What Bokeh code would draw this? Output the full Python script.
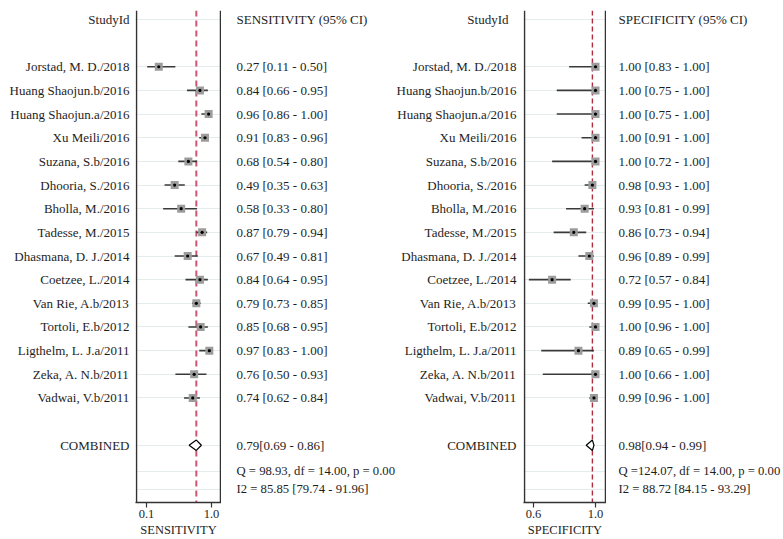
from bokeh.plotting import figure
from bokeh.layouts import row
from bokeh.models import Range1d, Span, FixedTicker, PrintfTickFormatter
from bokeh.core.properties import value
from bokeh.embed import file_html
from bokeh.resources import INLINE

# ---------------- data ----------------
studies = ["Jorstad, M. D./2018", "Huang Shaojun.b/2016", "Huang Shaojun.a/2016",
           "Xu Meili/2016", "Suzana, S.b/2016", "Dhooria, S./2016", "Bholla, M./2016",
           "Tadesse, M./2015", "Dhasmana, D. J./2014", "Coetzee, L./2014",
           "Van Rie, A.b/2013", "Tortoli, E.b/2012", "Ligthelm, L. J.a/2011",
           "Zeka, A. N.b/2011", "Vadwai, V.b/2011"]
sens = [0.27, 0.84, 0.96, 0.91, 0.68, 0.49, 0.58, 0.87, 0.67, 0.84, 0.79, 0.85, 0.97, 0.76, 0.74]
sens_lo = [0.11, 0.66, 0.86, 0.83, 0.54, 0.35, 0.33, 0.79, 0.49, 0.64, 0.73, 0.68, 0.83, 0.50, 0.62]
sens_hi = [0.50, 0.95, 1.00, 0.96, 0.80, 0.63, 0.80, 0.94, 0.81, 0.95, 0.85, 0.95, 1.00, 0.93, 0.84]
spec = [1.00, 1.00, 1.00, 1.00, 1.00, 0.98, 0.93, 0.86, 0.96, 0.72, 0.99, 1.00, 0.89, 1.00, 0.99]
spec_lo = [0.83, 0.75, 0.75, 0.91, 0.72, 0.93, 0.81, 0.73, 0.89, 0.57, 0.95, 0.96, 0.65, 0.66, 0.96]
spec_hi = [1.00, 1.00, 1.00, 1.00, 1.00, 1.00, 0.99, 0.94, 0.99, 0.84, 1.00, 1.00, 0.99, 1.00, 1.00]

sens_comb = [0.69, 0.79, 0.86]   # lo, est, hi
spec_comb = [0.94, 0.98, 0.99]
sens_comb_label = " 0.79[0.69 - 0.86]"
spec_comb_label = " 0.98[0.94 - 0.99]"
sens_q = "Q = 98.93, df = 14.00, p = 0.00"
spec_q = "Q =124.07, df = 14.00, p = 0.00"
sens_i2 = "I2 = 85.85 [79.74 - 91.96]"
spec_i2 = "I2 = 88.72 [84.15 - 93.29]"
sens_ticks = [0.1, 1.0]
spec_ticks = [0.6, 1.0]
header_id = "StudyId"
header_sens = "SENSITIVITY (95% CI)"
header_spec = "SPECIFICITY (95% CI)"
combined_label = "COMBINED"

# row positions (rows counted from top)
study_rows = list(range(2, 2 + len(studies)))
row_header = 0
row_comb = 18
row_q = 19.1
row_i2 = 19.85
grid_rows = [row_header] + study_rows + [row_comb, row_q, row_i2]

def fmt(e, l, h):
    return "%.2f [%.2f - %.2f]" % (e, l, h)

sens_labels = [fmt(e, l, h) for e, l, h in zip(sens, sens_lo, sens_hi)]
spec_labels = [fmt(e, l, h) for e, l, h in zip(spec, spec_lo, spec_hi)]

# ---------------- layout ----------------
H = 539
FONT = value("Liberation Serif")
FS = "13px"
FS_Q = "12.7px"
TXT = "#1e1e1e"
yr = Range1d(20.42, -0.378)


def base(width, xr, axis=False):
    p = figure(width=width, height=H, x_range=xr, y_range=yr,
               output_backend="svg", toolbar_location=None,
               min_border_left=0, min_border_right=0,
               min_border_top=10, min_border_bottom=34,
               x_axis_location="below" if axis else None,
               y_axis_location=None)
    p.outline_line_color = None
    p.xgrid.visible = False
    p.ygrid.visible = False
    p.background_fill_color = "white"
    p.border_fill_color = "white"
    return p


def texts(p, x, ys, labels, align, size=FS):
    p.text(x=[x] * len(labels), y=ys, text=labels, text_font=FONT,
           text_font_size=size, text_align=align, text_baseline="middle",
           text_color=TXT)


def panel(width, x0, x1, xl, xr_, est, lo, hi, comb, ticks, label, dash_color, dash_w, dash):
    p = base(width, Range1d(x0, x1), axis=True)
    p.ygrid.visible = True
    p.ygrid.ticker = FixedTicker(ticks=grid_rows)
    p.ygrid.grid_line_color = "#e4ecec"
    p.ygrid.grid_line_width = 1
    p.add_layout(Span(location=comb[1], dimension="height", line_color=dash_color,
                      line_width=dash_w, line_dash=dash, level="underlay"))
    for loc in (xl, xr_):
        p.add_layout(Span(location=loc, dimension="height", line_color="#333333",
                          line_width=1.5))
    p.segment(x0=lo, y0=study_rows, x1=hi, y1=study_rows, line_color="#3a3a3a",
              line_width=1.6)
    p.scatter(x=est, y=study_rows, marker="square", size=8, fill_color="#9c9c9c",
              line_color=None)
    p.scatter(x=est, y=study_rows, marker="circle", size=3.2, fill_color="black",
              line_color=None)
    h = 0.22
    p.patch(x=[comb[0], comb[1], comb[2], comb[1]],
            y=[row_comb, row_comb - h, row_comb, row_comb + h],
            fill_color="white", line_color="black", line_width=1.2)
    ax = p.xaxis[0]
    ax.ticker = FixedTicker(ticks=ticks)
    ax.formatter = PrintfTickFormatter(format="%.1f")
    ax.axis_label = label
    ax.axis_label_text_font = "Liberation Serif"
    ax.axis_label_text_font_size = "12.5px"
    ax.axis_label_text_font_style = "normal"
    ax.axis_label_text_color = TXT
    ax.major_label_text_font = "Liberation Serif"
    ax.major_label_text_font_size = "12.5px"
    ax.major_label_text_color = TXT
    ax.axis_line_color = "#333333"
    ax.axis_line_width = 1.5
    ax.major_tick_line_color = "#333333"
    ax.major_tick_line_width = 1.2
    ax.major_tick_out = 5
    ax.major_tick_in = 0
    ax.minor_tick_line_color = None
    ax.major_label_standoff = 2
    ax.axis_label_standoff = 2
    return p

# A: left study labels (page x 0-135)
wA = 135
pA = base(wA, Range1d(0, wA))
texts(pA, 129, [row_header], [header_id], "right")
texts(pA, 129, study_rows, studies, "right")
texts(pA, 129, [row_comb], [combined_label], "right")

# B: sensitivity panel (page x 135-221; 0.1 at 146, 1.0 at 211)
s = 72.2
pB = panel(86, 0.1 - 11 / s, 1.0 + 10 / s, 0.1 - 10 / s, 1.0 + 9 / s,
           sens, sens_lo, sens_hi, sens_comb, sens_ticks, "SENSITIVITY",
           "#cc5571", 2, "6 4")

# C: sensitivity values and right study labels (page x 221-523)
wC = 302
pC = base(wC, Range1d(0, wC))
texts(pC, 15, [row_header], [header_sens], "left")
texts(pC, 15, study_rows, sens_labels, "left")
texts(pC, 15, [row_comb], [sens_comb_label], "left")
texts(pC, 15, [row_q, row_i2], [sens_q, sens_i2], "left", FS_Q)
texts(pC, 287, [row_header], [header_id], "right")
texts(pC, 295, study_rows, studies, "right")
texts(pC, 295, [row_comb], [combined_label], "right")

# D: specificity panel (page x 523-606; 0.6 at 533, 1.0 at 595)
t = 155.0
pD = panel(83, 0.6 - 10 / t, 1.0 + 11 / t, 0.6 - 9 / t, 1.0 + 10 / t,
           spec, spec_lo, spec_hi, spec_comb, spec_ticks, "SPECIFICITY",
           "#b02a40", 1.4, "5 3")

# E: specificity values (page x 606-783)
wE = 177
pE = base(wE, Range1d(0, wE))
texts(pE, 12, [row_header], [header_spec], "left")
texts(pE, 12, study_rows, spec_labels, "left")
texts(pE, 12, [row_comb], [spec_comb_label], "left")
texts(pE, 12, [row_q, row_i2], [spec_q, spec_i2], "left", FS_Q)

layout = row(pA, pB, pC, pD, pE, spacing=0)
open("out.html", "w").write(file_html(layout, INLINE))
